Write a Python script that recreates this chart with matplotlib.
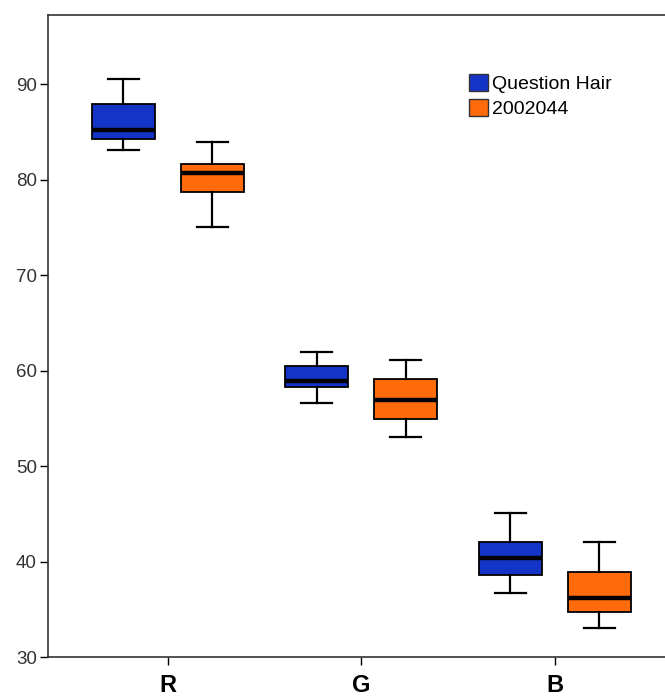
import matplotlib
matplotlib.use('Agg')
import matplotlib.pyplot as plt
from matplotlib.patches import Patch

plt.rcParams['font.family'] = ['Liberation Sans', 'DejaVu Sans']

# Data
categories = ['R', 'G', 'B']
series_names = ['Question Hair', '2002044']
series_colors = ['#1434C8', '#FF6A0A']

# per series, per category: whisker low, Q1, median, Q3, whisker high
whislo = [[83.1, 56.6, 36.7], [75.1, 53.1, 33.1]]
q1 = [[84.3, 58.3, 38.6], [78.7, 55.0, 34.7]]
med = [[85.2, 58.9, 40.4], [80.7, 56.9, 36.2]]
q3 = [[87.9, 60.5, 42.1], [81.7, 59.1, 38.9]]
whishi = [[90.6, 62.0, 45.1], [84.0, 61.1, 42.1]]

fig = plt.figure(figsize=(6.65, 7.0), dpi=100)
ax = fig.add_axes([0.072, 0.061, 0.935, 0.918])

offsets = [-0.23, 0.23]
for s in range(len(series_names)):
    stats = []
    for c in range(len(categories)):
        stats.append({'whislo': whislo[s][c], 'q1': q1[s][c], 'med': med[s][c],
                      'q3': q3[s][c], 'whishi': whishi[s][c], 'fliers': []})
    positions = [c + offsets[s] for c in range(len(categories))]
    ax.bxp(stats, positions=positions, widths=0.325, patch_artist=True,
           showfliers=False,
           boxprops=dict(facecolor=series_colors[s], edgecolor='black', linewidth=1.3),
           medianprops=dict(color='black', linewidth=3.2),
           whiskerprops=dict(color='black', linewidth=1.6),
           capprops=dict(color='black', linewidth=1.6),
           capwidths=0.16)

ax.set_xlim(-0.62, 2.593)
ax.set_ylim(30, 97.3)
ax.set_xticks(range(len(categories)))
ax.set_xticklabels(categories, fontsize=17, fontweight='bold', color='black')
ax.set_yticks([30, 40, 50, 60, 70, 80, 90])
ax.tick_params(axis='y', labelsize=13.5, labelcolor='#333333', length=6, width=1, pad=2)
ax.tick_params(axis='x', length=6, width=1, pad=6)
for side in ['left', 'bottom', 'top']:
    ax.spines[side].set_linewidth(1.2)
    ax.spines[side].set_color('#333333')
ax.spines['right'].set_visible(False)

handles = [Patch(facecolor=series_colors[i], edgecolor='#333333', linewidth=1)
           for i in range(len(series_names))]
fig.legend(handles, series_names, loc='upper left', bbox_to_anchor=(0.69, 0.908),
           frameon=False, fontsize=14, handlelength=0.98, handleheight=0.95,
           handletextpad=0.2, labelspacing=0.3, borderpad=0)

fig.savefig('out.png', dpi=100)
